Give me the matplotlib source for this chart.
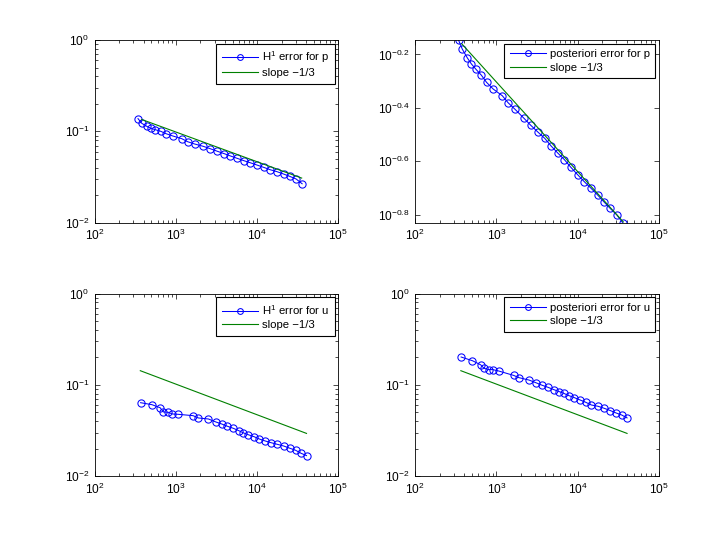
import matplotlib
matplotlib.use("Agg")
import matplotlib.pyplot as plt
from matplotlib.ticker import NullLocator, FixedLocator, FixedFormatter

plt.rcParams['font.family'] = ['Liberation Sans', 'DejaVu Sans']
plt.rcParams['mathtext.fontset'] = 'custom'
plt.rcParams['mathtext.rm'] = 'Liberation Sans'
plt.rcParams['mathtext.it'] = 'Liberation Sans:italic'
plt.rcParams['font.size'] = 8

# ---- data ----
x_p = [342, 380, 438, 491, 558, 652, 757, 916, 1183, 1395, 1700, 2165, 2640,
       3250, 3945, 4700, 5680, 6860, 8210, 9970, 12030, 14540, 17590, 21220,
       25150, 30250, 35850]
h1_p = [0.138, 0.1227, 0.1137, 0.1081, 0.1044, 0.1002, 0.0944, 0.0891, 0.0832,
        0.0771, 0.0728, 0.0687, 0.0647, 0.0605, 0.0570, 0.0538, 0.0507, 0.0478,
        0.0454, 0.0428, 0.0404, 0.0380, 0.0362, 0.0341, 0.0322, 0.0301, 0.0267]
post_p = [0.714, 0.661, 0.613, 0.582, 0.556, 0.528, 0.496, 0.468, 0.442, 0.416,
          0.393, 0.365, 0.343, 0.323, 0.306, 0.287, 0.270, 0.255, 0.239, 0.224,
          0.211, 0.1995, 0.188, 0.1768, 0.1674, 0.1585, 0.148]

x_u = [368, 507, 640, 703, 806, 903, 1065, 1630, 1895, 2516, 3114, 3660, 4311,
       5114, 5953, 6725, 7827, 9150, 10695, 12575, 14755, 17815, 21230, 25395,
       29825, 34825, 40600]
h1_u = [0.0638, 0.0607, 0.0562, 0.0505, 0.0501, 0.0480, 0.0476, 0.0460, 0.0434,
        0.0423, 0.0392, 0.0373, 0.0352, 0.0334, 0.0315, 0.0299, 0.0284, 0.0271,
        0.0255, 0.0243, 0.0233, 0.0223, 0.0214, 0.0202, 0.0192, 0.0178, 0.0168]
post_u = [0.202, 0.184, 0.166, 0.152, 0.147, 0.147, 0.142, 0.127, 0.120, 0.113,
          0.105, 0.0990, 0.0941, 0.0886, 0.0843, 0.0809, 0.0762, 0.0724, 0.0684,
          0.0645, 0.0602, 0.0583, 0.0554, 0.0522, 0.0492, 0.0468, 0.0435]

slope_x_p = [380, 35400]
slope_y_h1p = [0.135, 0.0308]
slope_x_pp = [374, 36500]
slope_y_pp = [0.692, 0.149]
slope_x_u = [365, 40600]
slope_y_u = [0.143, 0.0294]

labels = [r'H$^1$ error for p', 'posteriori error for p',
          r'H$^1$ error for u', 'posteriori error for u']
slope_label = 'slope \u22121/3'

blue = (0, 0, 1)
green = (0, 0.5, 0)

W, H = 728, 535
fig = plt.figure(figsize=(W / 100, H / 100), dpi=100)

positions = [[0.13, 0.5838, 0.3347, 0.3412],
             [0.5703, 0.5838, 0.3347, 0.3412],
             [0.13, 0.11, 0.3347, 0.3412],
             [0.5703, 0.11, 0.3347, 0.3412]]

datasets = [(x_p, h1_p, slope_x_p, slope_y_h1p),
            (x_p, post_p, slope_x_pp, slope_y_pp),
            (x_u, h1_u, slope_x_u, slope_y_u),
            (x_u, post_u, slope_x_u, slope_y_u)]

for i, (pos, (xs, ys, sx, sy)) in enumerate(zip(positions, datasets)):
    ax = fig.add_axes(pos)
    ax.loglog(xs, ys, '-o', color=blue, lw=0.75, ms=5.2, mfc='none', mew=0.75,
              label=labels[i])
    ax.loglog(sx, sy, '-', color=green, lw=0.8, label=slope_label)
    ax.set_xlim(1e2, 1e5)
    if i == 1:
        ax.set_ylim(min(ys), max(ys))
        yt = [10 ** -0.8, 10 ** -0.6, 10 ** -0.4, 10 ** -0.2]
        ax.yaxis.set_major_locator(FixedLocator(yt))
        ax.yaxis.set_major_formatter(FixedFormatter(
            [r'$10^{-0.8}$', r'$10^{-0.6}$', r'$10^{-0.4}$', r'$10^{-0.2}$']))
        ax.yaxis.set_minor_locator(NullLocator())
    else:
        ax.set_ylim(1e-2, 1e0)
    ax.tick_params(which='both', direction='in', top=True, right=True,
                   labelsize=8.6, width=0.5, pad=4, colors='black')
    ax.tick_params(which='major', length=3.5)
    ax.tick_params(which='minor', length=2)
    for s in ax.spines.values():
        s.set_linewidth(0.6)
    leg = ax.legend(loc='upper right', fancybox=False, edgecolor='black',
                    framealpha=1, borderaxespad=0.3, handlelength=3.2,
                    handletextpad=0.3, borderpad=0.5, labelspacing=0.3,
                    fontsize=8.2, markerscale=0.8)
    leg.get_frame().set_linewidth(0.8)

fig.savefig('out.png', dpi=100)
